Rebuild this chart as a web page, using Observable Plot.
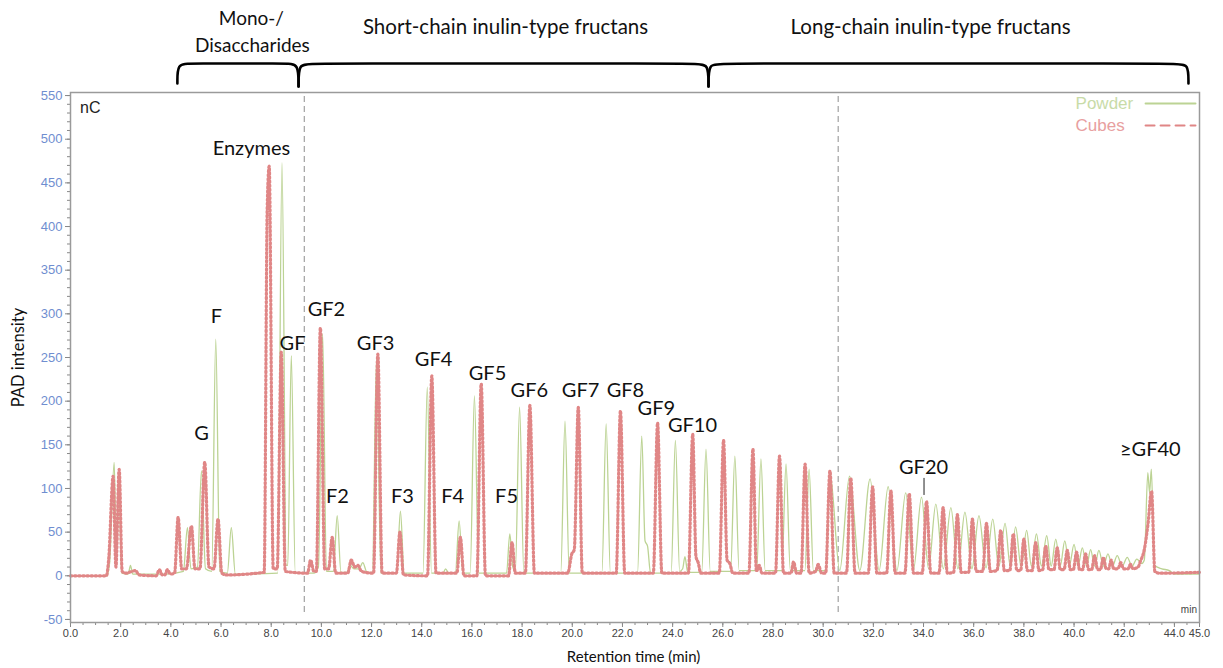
<!DOCTYPE html>
<html><head><meta charset="utf-8">
<script src="https://cdn.jsdelivr.net/npm/d3@7"></script>
<script src="https://cdn.jsdelivr.net/npm/@observablehq/plot@0.6"></script>
<style>body{margin:0;background:#fff;} #chart svg{display:block;}</style>
</head><body><div id="chart"></div>
<script>
// ---- Data: chromatogram vertices (retention time in min, PAD intensity in nC) ----
const powderT = [0,1.45,1.56,1.74,1.83,1.92,2.04,2.30,2.39,2.48,3.80,4.50,4.66,4.80,5.06,5.22,5.38,5.63,5.79,5.95,6.25,6.41,6.57,8.26,8.43,8.60,8.66,8.80,8.96,9.70,9.88,10.05,10.20,10.48,10.63,10.78,11.02,11.15,11.30,11.50,11.65,11.82,12.03,12.20,12.37,13.00,13.15,13.30,14.05,14.22,14.39,14.85,14.95,15.08,15.34,15.49,15.64,15.93,16.10,16.27,17.38,17.51,17.63,17.73,17.90,18.07,19.54,19.71,19.88,21.18,21.35,21.52,22.60,22.77,22.90,23.00,23.12,23.94,24.11,24.28,24.40,24.49,24.60,25.16,25.33,25.50,26.31,26.48,26.65,27.35,27.52,27.69,28.35,28.52,28.69,29.27,29.44,29.61,30.10,30.27,30.66,31.05,31.46,31.87,32.23,32.59,32.94,33.29,33.60,33.92,34.20,34.49,34.79,35.09,35.37,35.65,35.93,36.21,36.49,36.76,37.00,37.25,37.46,37.67,37.89,38.11,38.30,38.50,38.70,38.91,39.09,39.27,39.45,39.63,39.81,40.00,40.16,40.33,40.50,40.66,40.82,40.99,41.17,41.35,41.53,41.72,41.92,42.12,42.31,42.50,42.70,42.80,42.94,43.01,43.08,43.20,43.50,43.80,44.00,45.00];
const powderV = [0,0,15,130,25,110,3,2,12,2,2,5,55,8,10,120,8,5,271,5,3,55,2,3,473,12,12,252,3,3,10,277,5,5,69,4,4,12,8,8,15,4,4,250,3,3,74,3,3,216,3,3,8,3,3,63,3,3,206,3,3,48,10,5,193,3,3,177,3,3,174,3,3,160,40,34,3,3,155,5,8,22,4,4,145,5,5,137,6,6,134,6,6,128,6,6,122,6,6,118,6,114,6,111,6,102,6,95,7,90,8,82,8,78,8,73,8,69,9,65,10,60,10,56,10,52,11,48,11,46,11,42,11,40,11,36,11,32,11,30,11,29,11,25,11,23,11,21,11,19,14,18,118,95,122,12,8,6,2,2];

const cubesT = [0,1.43,1.52,1.70,1.81,1.94,2.06,2.20,2.60,2.72,3.42,3.54,3.66,3.76,3.86,3.98,4.15,4.29,4.43,4.62,4.82,4.96,5.16,5.35,5.52,5.72,5.88,6.03,6.20,7.72,7.84,7.92,8.08,8.24,8.40,8.56,9.45,9.57,9.70,9.80,9.96,10.13,10.29,10.43,10.57,11.05,11.19,11.33,11.45,11.60,12.08,12.25,12.42,12.99,13.13,13.27,14.23,14.40,14.57,15.40,15.54,15.68,16.20,16.37,16.54,17.46,17.60,17.73,18.13,18.31,18.49,19.82,19.98,20.08,20.24,20.40,21.75,21.92,22.09,23.23,23.40,23.57,24.63,24.80,24.93,25.02,25.12,25.86,26.03,26.17,26.28,26.40,27.04,27.20,27.34,27.45,27.56,28.10,28.26,28.42,28.72,28.82,28.94,29.12,29.28,29.44,29.70,29.80,29.94,30.10,30.27,30.44,30.93,31.10,31.27,31.80,31.97,32.14,32.53,32.70,32.87,33.26,33.43,33.60,33.95,34.12,34.29,34.62,34.78,34.95,35.20,35.35,35.50,35.80,35.95,36.10,36.36,36.51,36.66,36.93,37.08,37.22,37.44,37.58,37.72,37.87,38.00,38.14,38.33,38.47,38.60,38.75,38.87,39.00,39.20,39.33,39.45,39.60,39.73,39.85,39.97,40.10,40.22,40.34,40.46,40.58,40.70,40.82,40.94,41.05,41.17,41.28,41.38,41.48,41.58,41.75,41.86,41.97,42.15,42.25,42.35,42.55,42.65,42.80,42.95,43.09,43.22,43.40,45.00];
const cubesV = [0,0,18,114,10,122,5,3,6,1,0,7,1,1,7,2,3,67,8,8,57,8,8,130,10,8,65,3,1,4,420,469,8,8,256,5,3,18,5,5,284,8,8,44,3,3,18,10,12,5,3,254,3,3,50,1,0,229,3,3,44,0,0,220,0,0,38,3,3,195,3,3,25,30,193,3,3,189,3,3,175,3,3,162,22,15,3,3,155,18,14,3,3,145,5,12,3,3,137,3,3,16,3,3,128,3,5,13,3,3,120,3,3,112,3,3,102,3,3,97,3,3,94,3,3,85,3,3,78,3,4,70,4,4,65,5,5,60,5,6,52,6,6,48,6,6,42,6,6,38,6,7,34,7,7,32,7,7,29,7,7,27,7,7,25,7,7,23,7,7,21,8,8,18,8,8,15,8,8,13,8,10,17,30,60,97,5,3,4];

// Peak annotations
const peakNames = ["Enzymes","F","G","GF","GF2","GF3","GF4","GF5","GF6","GF7","GF8","GF9","GF10","F2","F3","F4","F5","GF20","≥GF40"];
const peakLabelT = [7.21,5.82,5.22,8.85,10.20,12.16,14.47,16.62,18.29,20.33,22.12,23.35,24.79,10.64,13.23,15.23,17.38,34.00,43.04];
const peakLabelV = [489,297,163,266,305,266,248,232,212,212,212,192,172,91,91,91,91,124,145];

// Region groups (brace boundaries, min) and names
const groupEdges = [4.26, 9.09, 25.43, 44.56];
const groupNames = ["Mono-/", "Disaccharides", "Short-chain inulin-type fructans", "Long-chain inulin-type fructans"];
const groupNameT = [7.21, 7.25, 17.34, 34.28];
const groupNameV = [638, 607, 628, 628];
const groupNameSize = [19, 19, 20.5, 20.5];

// Dashed dividers (min)
const dividerT = [9.32, 30.6];

// Series names
const seriesNames = ["Powder", "Cubes"];

// Axis ticks
const xMajorTicks = [0,2,4,6,8,10,12,14,16,18,20,22,24,26,28,30,32,34,36,38,40,42,44,45];
const xMinorTicks = d3.range(0, 45.001, 0.5);
const yMajorTicks = [-50,0,50,100,150,200,250,300,350,400,450,500,550];
const yMinorTicks = d3.range(-50, 551, 10);

// ---- Build tables ----
const powder = powderT.map((t, i) => ({t, v: powderV[i]}));
const cubes = cubesT.map((t, i) => ({t, v: cubesV[i]}));
const peakLabels = peakNames.map((s, i) => ({s, t: peakLabelT[i], v: peakLabelV[i]}));
const groupLabels = groupNames.map((s, i) => ({s, t: groupNameT[i], v: groupNameV[i], fs: groupNameSize[i]}));

const topV = 586.7, endV = 563.8, tipV = 560.4, corner = 0.45;
const braces = [];
for (let i = 0; i < groupEdges.length - 1; i++) {
  const a = groupEdges[i], b = groupEdges[i + 1];
  const sv = i === 0 ? endV : tipV;
  const ev = i === groupEdges.length - 2 ? endV : tipV;
  [[a, sv], [a, topV], [a + corner, topV], [b - corner, topV], [b, topV], [b, ev]]
    .forEach(([t, v]) => braces.push({g: i, t, v}));
}

const green = "#bcd394", pink = "#e08686", blue = "#6f8ed0";
const legendT0 = 42.85, legendT1 = 44.84, legendTextT = 40.06, legendV = [540.9, 515.7];
const legendLines = [
  {s: 0, t: legendT0, v: legendV[0]}, {s: 0, t: legendT1, v: legendV[0]},
  {s: 1, t: legendT0, v: legendV[1]}, {s: 1, t: legendT1, v: legendV[1]}
];

const chart = Plot.plot({
  width: 1223, height: 668,
  marginLeft: 70, marginRight: 24, marginTop: 92, marginBottom: 46,
  x: {domain: [0, 45]},
  y: {domain: [-53.5, 553.5]},
  style: {fontFamily: "'Liberation Sans', Arial, sans-serif", fontSize: "11px", background: "#fff", overflow: "visible"},
  marks: [
    Plot.ruleX(dividerT, {x: d => d, y1: () => -42, y2: () => 553.5, stroke: "#a8a8a8", strokeWidth: 1.3, strokeDasharray: "6,4"}),
    Plot.axisY({ticks: yMinorTicks, tickSize: 3, tickFormat: () => "", stroke: "#888", label: null}),
    Plot.axisY({ticks: yMajorTicks, tickSize: 5, tickPadding: 3, tickFormat: d => String(d), stroke: "#888", fill: blue, fontSize: 13, label: null}),
    Plot.axisX({ticks: xMinorTicks, tickSize: 3, tickFormat: () => "", stroke: "#888", label: null}),
    Plot.axisX({ticks: xMajorTicks, tickSize: 5, tickPadding: 2, tickFormat: d3.format(".1f"), stroke: "#888", fill: "#444", fontSize: 11, label: null}),
    Plot.line(powder, {x: "t", y: "v", stroke: green, strokeWidth: 1.3, curve: "monotone-x"}),
    Plot.line(cubes, {x: "t", y: "v", stroke: pink, strokeWidth: 3.2, strokeDasharray: "1.5,2.6", curve: "monotone-x"}),
    Plot.frame({stroke: "#9a9a9a", strokeWidth: 1.5}),
    Plot.ruleX([34.02], {x: d => d, y1: () => 92, y2: () => 111.5, stroke: "#222", strokeWidth: 1}),
    Plot.text(peakLabels, {x: "t", y: "v", text: "s", fontSize: 20, fontFamily: "Lato, sans-serif", fill: "#111"}),
    Plot.line(braces, {x: "t", y: "v", z: "g", curve: "basis", stroke: "#000", strokeWidth: 2.6}),
    Plot.text(groupLabels, {x: "t", y: "v", text: "s", fontSize: d => d.fs, fontFamily: "Lato, sans-serif", fill: "#111"}),
    Plot.text(["nC"], {x: () => 0.38, y: () => 536, text: d => d, textAnchor: "start", fontSize: 16, fill: "#222"}),
    Plot.text(["min"], {x: () => 44.9, y: () => -38.6, text: d => d, textAnchor: "end", fontSize: 10, fill: "#444"}),
    Plot.text(seriesNames, {x: () => legendTextT, y: (d, i) => legendV[i], text: d => d, textAnchor: "start", fontSize: 17, fill: (d, i) => i === 0 ? "#c8dba8" : "#e8a0a0"}),
    Plot.line(legendLines.filter(d => d.s === 0), {x: "t", y: "v", stroke: green, strokeWidth: 2}),
    Plot.line(legendLines.filter(d => d.s === 1), {x: "t", y: "v", stroke: pink, strokeWidth: 2, strokeDasharray: "9,6"}),
    Plot.text(["PAD intensity"], {x: () => -2.07, y: () => 250, text: d => d, rotate: -90, fontSize: 16.5, fontFamily: "Lato, sans-serif", fill: "#111"}),
    Plot.text(["Retention time (min)"], {x: () => 22.44, y: () => -93.3, text: d => d, fontSize: 15, fontFamily: "Lato, sans-serif", fill: "#111"})
  ]
});
document.getElementById("chart").appendChild(chart);
</script>
</body></html>
